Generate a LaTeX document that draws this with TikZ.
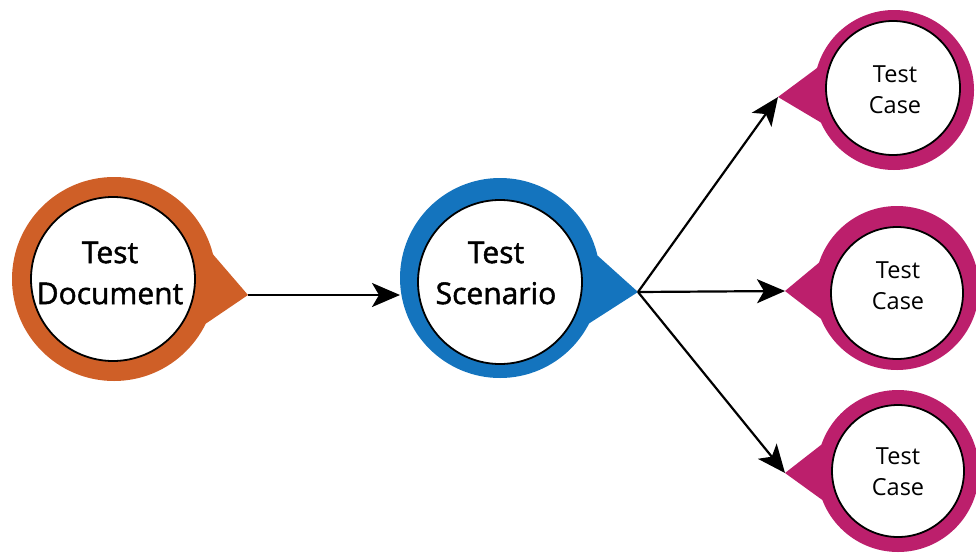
\documentclass[tikz,border=0pt]{standalone}
\usepackage{fontspec}
\setmainfont{Open Sans}
\usetikzlibrary{calc,arrows.meta}
\definecolor{docc}{HTML}{CF5F27}
\definecolor{scnc}{HTML}{1474BE}
\definecolor{casec}{HTML}{BC1F6C}
\tikzset{
  outerc/.style={circle,inner sep=0pt,outer sep=0pt,minimum size=#1},
  innerc/.style={circle,fill=white,draw=black,line width=1.8pt,inner sep=0pt,minimum size=#1},
  bigtxt/.style={align=center,font=\addfontfeatures{FakeBold=1.6}\fontsize{30}{41}\selectfont},
  smalltxt/.style={align=center,font=\fontsize{23.5}{31}\selectfont},
  flow/.style={draw=black,line width=2.2pt,-{Stealth[length=28pt,width=24pt,inset=7pt]}}
}
\newcommand{\teardrop}[4]{% color, outer node, tip, tip angle
  \fill[#1] (#3) -- (#2.{#4+20}) -- (#2.center) -- (#2.{#4-20}) -- cycle;}
\begin{document}
\begin{tikzpicture}[x=1pt,y=-1pt]
\useasboundingbox (0,0) rectangle (976,554);
% Test Document
\node[outerc=204pt,fill=docc] (docO) at (114,279) {};
\coordinate (docT) at (248,295);
\teardrop{docc}{docO}{docT}{-6}
\node[innerc=164pt] (docI) at (113,279) {};
\node[bigtxt] (docL) at (110,273) {Test\\Document};
% Test Scenario
\node[outerc=200pt,fill=scnc] (scnO) at (500,278) {};
\coordinate (scnT) at (638,292);
\teardrop{scnc}{scnO}{scnT}{-7}
\node[innerc=164pt] (scnI) at (500,282) {};
\node[bigtxt] (scnL) at (496,273) {Test\\Scenario};
% Test Case 1
\node[outerc=160pt,fill=casec] (c1O) at (894,90) {};
\coordinate (c1T) at (778,97);
\teardrop{casec}{c1O}{c1T}{184}
\node[innerc=134pt] (c1I) at (893,88) {};
\node[smalltxt] (c1L) at (895,90) {Test\\Case};
% Test Case 2
\node[outerc=164pt,fill=casec] (c2O) at (897,288) {};
\coordinate (c2T) at (785,291);
\teardrop{casec}{c2O}{c2T}{182}
\node[innerc=132pt] (c2I) at (897,293) {};
\node[smalltxt] (c2L) at (898,286) {Test\\Case};
% Test Case 3
\node[outerc=162pt,fill=casec] (c3O) at (898,471) {};
\coordinate (c3T) at (785,473);
\teardrop{casec}{c3O}{c3T}{181}
\node[innerc=132pt] (c3I) at (898,471) {};
\node[smalltxt] (c3L) at (898,472) {Test\\Case};
% connectors
\draw[flow] (docT) -- (docT -| scnO.west);
\draw[flow] (scnT) -- (c1T);
\draw[flow] (scnT) -- (c2T);
\draw[flow] (scnT) -- (c3T);
\end{tikzpicture}
\end{document}
